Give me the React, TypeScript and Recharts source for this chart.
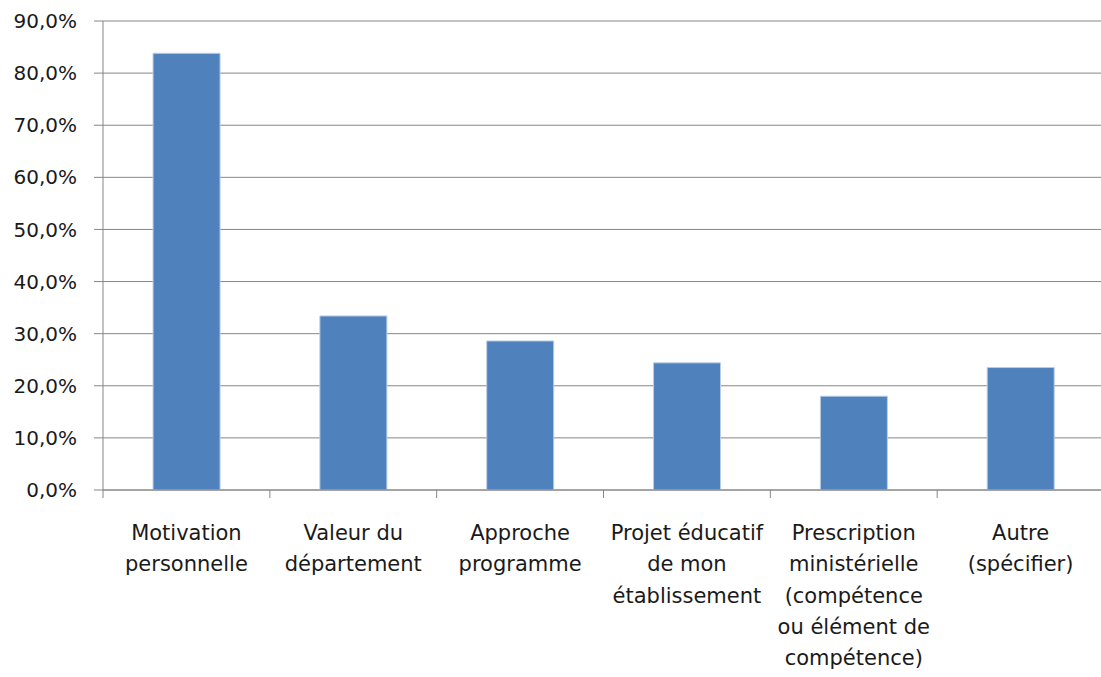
import { BarChart, Bar, XAxis, YAxis, CartesianGrid } from "recharts";

const categories = [
  "Motivation\npersonnelle",
  "Valeur du\ndépartement",
  "Approche\nprogramme",
  "Projet éducatif\nde mon\nétablissement",
  "Prescription\nministérielle\n(compétence\nou élément de\ncompétence)",
  "Autre\n(spécifier)",
];
const shares = [0.838, 0.334, 0.286, 0.244, 0.18, 0.235];
const yTicks = [0, 0.1, 0.2, 0.3, 0.4, 0.5, 0.6, 0.7, 0.8, 0.9];

const data = categories.map((c, i) => ({ name: c, value: shares[i] }));

const GRID = "#868686";
const FONT = "'DejaVu Sans', sans-serif";

const pct = (v: number) => (v * 100).toFixed(1).replace(".", ",") + "%";

// category label + tick marks on the band boundaries (Excel style)
function CatTick({ x, y, payload, index, visibleTicksCount }: any) {
  const lines = String(payload.value).split("\n");
  const half = payload.offset || 0;
  const last = index === visibleTicksCount - 1;
  return (
    <g>
      <line x1={x - half} x2={x - half} y1={y} y2={y + 8} stroke={GRID} />
      {last && <line x1={x + half} x2={x + half} y1={y} y2={y + 8} stroke={GRID} />}
      <text x={x} y={y} textAnchor="middle" fontFamily={FONT} fontSize={21} fill="#1a1a1a">
        {lines.map((l, i) => (
          <tspan key={i} x={x} y={y + 50 + i * 31.3}>{l}</tspan>
        ))}
      </text>
    </g>
  );
}

export default function App() {
  return (
    <div style={{ position: "absolute", left: 0, top: 0, background: "#fff" }}>
      <BarChart
        width={1101}
        height={677}
        data={data}
        margin={{ top: 21, right: -3, left: 0, bottom: 0 }}
        barCategoryGap="30%"
      >
        <CartesianGrid vertical={false} stroke={GRID} strokeWidth={1} />
        <XAxis
          dataKey="name"
          height={187}
          axisLine={{ stroke: GRID }}
          tickLine={false}
          tickSize={0}
          tickMargin={0}
          interval={0}
          tick={<CatTick />}
        />
        <YAxis
          domain={[0, 0.9]}
          ticks={yTicks}
          tickFormatter={pct}
          width={103}
          tickSize={9}
          tickMargin={17}
          axisLine={{ stroke: GRID }}
          tickLine={{ stroke: GRID }}
          tick={{ fontFamily: FONT, fontSize: 20, fill: "#1a1a1a" }}
          allowDataOverflow
        />
        <Bar
          dataKey="value"
          fill="#4F81BD"
          stroke="#B9CDE5"
          strokeWidth={1}
          isAnimationActive={false}
        />
      </BarChart>
    </div>
  );
}
